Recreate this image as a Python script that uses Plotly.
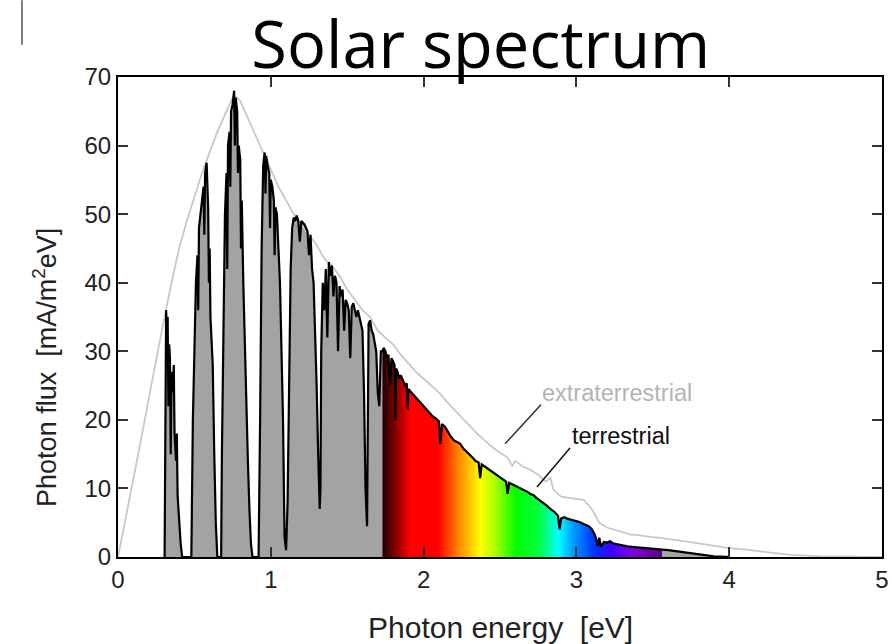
import numpy as np
import plotly.graph_objects as go

# ---------------- data ----------------
terr_energy = [
    0.305, 0.31, 0.315, 0.32, 0.325, 0.33, 0.335, 0.34, 0.345, 0.35, 0.36, 0.365, 0.37, 0.38, 0.385, 0.39, 0.40, 0.41, 0.42,
    0.48, 0.49, 0.50, 0.51, 0.52, 0.525, 0.53, 0.54, 0.55, 0.56, 0.565, 0.57, 0.58, 0.585, 0.59, 0.595, 0.60, 0.605, 0.61, 0.62, 0.63, 0.64, 0.65,
    0.675, 0.68, 0.69, 0.70, 0.71, 0.715, 0.72, 0.73, 0.735, 0.74, 0.75, 0.76, 0.765, 0.77, 0.78, 0.785, 0.79, 0.80, 0.805, 0.81, 0.82, 0.83, 0.84, 0.85, 0.86, 0.87, 0.88,
    0.92, 0.93, 0.94, 0.95, 0.96, 0.965, 0.97, 0.98, 0.99, 0.995, 1.00, 1.01, 1.02, 1.025, 1.03, 1.04, 1.05, 1.06, 1.07, 1.08, 1.09, 1.10, 1.11,
    1.12, 1.13, 1.14, 1.15, 1.16, 1.17, 1.18, 1.19, 1.20, 1.22, 1.24, 1.25, 1.26, 1.27, 1.28, 1.29, 1.30, 1.31, 1.32, 1.325,
    1.33, 1.34, 1.35, 1.36, 1.37, 1.38, 1.39, 1.40, 1.41, 1.42, 1.43, 1.44, 1.45, 1.46, 1.47, 1.48, 1.49, 1.50, 1.51, 1.52, 1.53,
    1.54, 1.55, 1.56, 1.57, 1.58, 1.59, 1.60, 1.61, 1.62, 1.63, 1.635, 1.64, 1.65, 1.66, 1.67, 1.68, 1.69, 1.70, 1.71, 1.72,
    1.73, 1.74, 1.75, 1.76, 1.77, 1.78, 1.79, 1.80, 1.81, 1.815, 1.82, 1.83, 1.84, 1.85, 1.86, 1.87, 1.88, 1.89, 1.895, 1.90,
    1.92, 1.94, 1.96, 1.98, 2.00, 2.02, 2.04, 2.06, 2.08, 2.10, 2.11, 2.12, 2.14, 2.16, 2.18, 2.20, 2.22, 2.24, 2.26, 2.28, 2.30,
    2.32, 2.34, 2.36, 2.37, 2.38, 2.40, 2.42, 2.44, 2.46, 2.48, 2.50, 2.52, 2.54, 2.55, 2.56, 2.58, 2.60, 2.62, 2.64, 2.66, 2.68,
    2.70, 2.72, 2.74, 2.76, 2.78, 2.80, 2.82, 2.84, 2.86, 2.88, 2.89, 2.90, 2.92, 2.94, 2.96, 2.98, 3.00, 3.02, 3.04, 3.06, 3.08,
    3.10, 3.12, 3.13, 3.14, 3.15, 3.16, 3.18, 3.20, 3.22, 3.24, 3.26, 3.28, 3.30, 3.32, 3.35, 3.38, 3.41, 3.44, 3.47, 3.50, 3.53,
    3.56, 3.60, 3.65, 3.70, 3.75, 3.80, 3.85, 3.90, 3.95, 4.00,
]
terr_flux = [
    0, 30, 36, 33, 35, 22, 31, 29, 15, 27, 24, 28, 18, 14, 18, 9, 5, 2, 0,
    0, 20, 30, 40, 44, 36, 48, 50, 52, 54, 47, 56, 57.5, 52, 51, 40, 45, 35, 32, 28, 15, 5, 0,
    0, 15, 35, 50, 56, 42, 60, 62, 54, 65, 66, 68, 60, 67, 65, 56, 60, 58, 45, 52, 40, 30, 22, 14, 7, 2, 0,
    0, 20, 45, 57, 59, 53, 58.5, 57, 56, 48, 55, 54, 52, 44, 51, 50, 45, 40, 30, 20, 3, 1, 8,
    30, 42, 48, 49.5, 49, 49.8, 49, 46, 49, 48.5, 47.5, 44, 47, 42, 40, 33, 25, 15, 7, 10,
    30, 40, 36, 42, 32, 43, 41, 42.5, 38, 41, 40, 30, 39.5, 38, 39, 33, 37.5, 37, 36, 29, 36.5,
    37, 36, 35, 36, 35, 34, 33, 24, 10, 4.5, 20, 34, 34.5, 33, 32.5, 31.5, 30, 24, 22, 30,
    30, 30.5, 30, 29, 29.5, 25, 29, 28.5, 28, 20, 27.5, 27, 26, 26.5, 26, 25.5, 25, 25.3, 21.5, 24.5,
    24, 23.5, 23, 22.5, 22, 21.5, 21, 20.5, 20.2, 19.8, 16.5, 19.4, 19, 18.2, 17.5, 17, 16.8, 16.5, 15.8, 15.4, 15,
    14.5, 14, 13.8, 11.5, 13.5, 13.2, 12.9, 12.5, 12.2, 12.0, 11.6, 11.4, 11.0, 9.2, 10.8, 10.6, 10.4, 10.2, 10.0, 9.8, 9.5,
    9.2, 9.0, 8.6, 8.3, 7.9, 7.6, 7.2, 6.9, 6.5, 6.0, 4.0, 5.6, 5.8, 5.6, 5.5, 5.4, 5.2, 5.1, 4.9, 4.7, 4.5,
    4.1, 3.3, 2.6, 1.6, 2.8, 1.5, 2.2, 2.1, 2.3, 2.0, 1.9, 1.8, 1.7, 1.6, 1.5, 1.45, 1.4, 1.35, 1.3, 1.2, 1.15,
    1.1, 1.0, 0.85, 0.7, 0.5, 0.35, 0.2, 0.1, 0.05, 0,
]

extra_energy = [
    0, 0.05, 0.10, 0.15, 0.20, 0.25, 0.30, 0.35, 0.40, 0.45, 0.50, 0.55, 0.60, 0.65, 0.70, 0.75, 0.78, 0.80,
    0.85, 0.90, 0.95, 1.00, 1.05, 1.10, 1.15, 1.20, 1.25, 1.30, 1.35, 1.40, 1.45, 1.50, 1.55, 1.60, 1.65,
    1.70, 1.75, 1.80, 1.85, 1.90, 1.95, 2.00, 2.05, 2.10, 2.15, 2.20, 2.25, 2.30, 2.35, 2.40, 2.45, 2.50,
    2.55, 2.58, 2.60, 2.65, 2.70, 2.75, 2.80, 2.83, 2.85, 2.90, 2.95, 3.00, 3.05, 3.10, 3.15, 3.20, 3.25,
    3.30, 3.35, 3.40, 3.45, 3.50, 3.55, 3.60, 3.70, 3.80, 3.90, 4.00, 4.10, 4.20, 4.30, 4.40, 4.50, 4.60,
    4.80, 5.00,
]
extra_flux = [
    0, 5.5, 11, 17, 23, 29, 34.5, 40, 45, 49, 52.5, 56, 59, 62, 64.5, 67, 67, 66.5,
    64, 61.5, 59, 56.5, 54, 52, 50, 48.5, 47, 45.5, 43.5, 42.5, 41, 39, 37.5, 36, 35,
    33, 32, 31, 29.5, 28.3, 27, 26, 25, 24, 22.7, 21.5, 20.3, 19.2, 18, 17, 16, 15.2,
    14.5, 13.3, 14.0, 13.2, 12.7, 12.0, 11.0, 11.5, 9.8, 8.8, 8.6, 8.4, 8.3, 7.0, 5.0, 4.3, 4.0,
    3.6, 3.3, 3.2, 3.0, 2.9, 2.8, 2.6, 2.3, 2.0, 1.6, 1.3, 1.1, 0.8, 0.5, 0.3, 0.2, 0.1,
    0.05, 0,
]

visible_start = 1.73   # eV, where the coloured (visible) band begins
visible_end = 3.56     # eV, where it ends

x_ticks = [0, 1, 2, 3, 4, 5]
y_ticks = [0, 10, 20, 30, 40, 50, 60, 70]

rainbow = [
    [0.00, "#1a0000"], [0.10, "#ff0000"], [0.20, "#ff0000"], [0.27, "#ff8000"],
    [0.35, "#ffff00"], [0.40, "#b0ff00"], [0.48, "#00ff00"], [0.56, "#00ff40"],
    [0.63, "#00ffff"], [0.68, "#00a0ff"], [0.76, "#0030ff"], [0.82, "#4000ff"],
    [0.90, "#8000e0"], [1.00, "#600080"],
]

# ---------------- figure ----------------
E = np.array(terr_energy)
F = np.array(terr_flux)
low = E <= visible_start
vis = (E >= visible_start) & (E <= visible_end)
high = E >= visible_end

GRAY = "#a3a3a3"
fig = go.Figure()
fig.add_trace(go.Scatter(x=E[low], y=F[low], mode="lines", line=dict(width=0),
                         fill="tozeroy", fillcolor=GRAY, hoverinfo="skip"))
fig.add_trace(go.Scatter(x=E[high], y=F[high], mode="lines", line=dict(width=0),
                         fill="tozeroy", fillcolor=GRAY, hoverinfo="skip"))
fig.add_trace(go.Scatter(x=E[vis], y=F[vis], mode="lines", line=dict(width=0),
                         fill="tozeroy",
                         fillgradient=dict(type="horizontal", colorscale=rainbow),
                         hoverinfo="skip"))
fig.add_trace(go.Scatter(x=extra_energy, y=extra_flux, mode="lines",
                         line=dict(color="#c8c8c8", width=1.8), name="extraterrestrial"))
fig.add_trace(go.Scatter(x=terr_energy, y=terr_flux, mode="lines",
                         line=dict(color="#000000", width=2.2), name="terrestrial"))

axis_font = "Liberation Sans, Arial, sans-serif"
common = dict(showline=True, linecolor="#000000", linewidth=2, mirror="ticks",
              ticks="inside", ticklen=10, tickwidth=2, tickcolor="#333333",
              showgrid=False, zeroline=False, automargin=False,
              tickfont=dict(family=axis_font, size=24, color="#222222"))

fig.update_xaxes(range=[0, 5], tickvals=x_ticks, ticktext=[str(v) for v in x_ticks], **common)
fig.update_yaxes(range=[0, 70], tickvals=y_ticks, ticktext=[str(v) for v in y_ticks], **common)

# axis titles
fig.add_annotation(x=0.5, y=-0.146, xref="paper", yref="paper",
                   text="Photon energy\u00a0\u00a0[eV]", showarrow=False,
                   xanchor="center", yanchor="middle",
                   font=dict(family=axis_font, size=30, color="#222222"))
fig.add_annotation(x=-0.0955, y=0.394, xref="paper", yref="paper",
                   text="Photon flux\u00a0\u00a0[mA/m<sup>2</sup>eV]", showarrow=False,
                   textangle=-90, xanchor="center", yanchor="middle",
                   font=dict(family=axis_font, size=27, color="#222222"))

# curve labels with leader lines
fig.add_annotation(x=2.762, y=23.9, xref="x", yref="y", text="extraterrestrial",
                   showarrow=False, xanchor="left", yanchor="middle",
                   font=dict(family=axis_font, size=23.5, color="#b4b4b4"))
fig.add_annotation(x=2.96, y=17.6, xref="x", yref="y", text="terrestrial",
                   showarrow=False, xanchor="left", yanchor="middle",
                   font=dict(family=axis_font, size=23.5, color="#111111"))
fig.add_shape(type="line", xref="x", yref="y", x0=2.768, y0=22.2, x1=2.533, y1=16.5,
              line=dict(color="#333333", width=1.5))
fig.add_shape(type="line", xref="x", yref="y", x0=2.958, y0=15.9, x1=2.742, y1=10.2,
              line=dict(color="#111111", width=1.5))
# small cropping artefact at the top-left corner
fig.add_shape(type="line", xref="paper", yref="paper", x0=-0.1257, x1=-0.1257,
              y0=1.16, y1=1.067, line=dict(color="#555555", width=1.5))

fig.update_layout(
    width=892, height=644,
    margin=dict(l=118, r=10, t=77, b=87, autoexpand=False),
    paper_bgcolor="white", plot_bgcolor="white",
    showlegend=False,
    title=dict(text="Solar spectrum", x=0.539, xanchor="center", y=0.93, yanchor="middle",
               font=dict(family="Open Sans, sans-serif", size=65, color="#000000")),
)

fig.write_html("out.html")
